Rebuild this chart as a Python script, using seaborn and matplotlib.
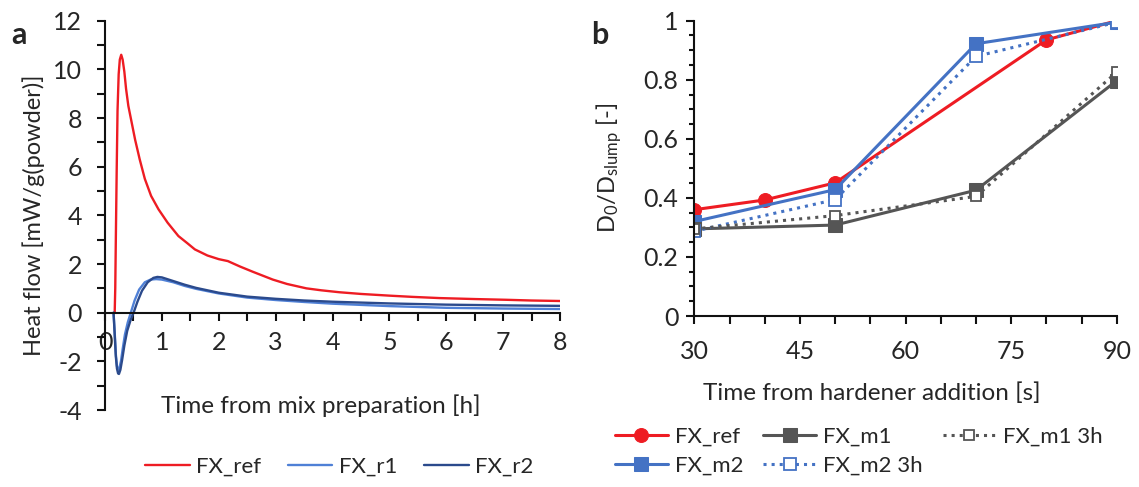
import numpy as np
import pandas as pd
import seaborn as sns
import matplotlib.pyplot as plt
from matplotlib.ticker import MultipleLocator

# Style first, then fonts (set_style resets font.family)
sns.set_style("ticks")
plt.rcParams['font.family'] = ['Lato', 'DejaVu Sans']
plt.rcParams['mathtext.fontset'] = 'custom'
plt.rcParams['mathtext.rm'] = 'Lato'
plt.rcParams['mathtext.it'] = 'Lato:italic'
plt.rcParams['axes.unicode_minus'] = False

# ---- panel a: heat flow curves ----
t_ref = [0.17, 0.18, 0.19, 0.205, 0.22, 0.24, 0.26, 0.285, 0.31, 0.34, 0.37, 0.41, 0.47,
         0.53, 0.61, 0.70, 0.81, 0.94, 1.1, 1.29, 1.45, 1.58, 1.8, 2.0, 2.16, 2.37, 2.6,
         2.95, 3.2, 3.54, 3.8, 4.12, 4.5, 5.0, 5.4, 5.88, 6.5, 7.05, 7.5, 8.0]
v_ref = [0.0, 1.0, 3.0, 5.8, 8.3, 9.8, 10.4, 10.6, 10.4, 9.9, 9.2, 8.5, 7.8,
         7.1, 6.3, 5.5, 4.8, 4.25, 3.7, 3.15, 2.85, 2.6, 2.35, 2.2, 2.12, 1.9, 1.68,
         1.36, 1.18, 1.0, 0.92, 0.84, 0.77, 0.7, 0.65, 0.6, 0.56, 0.53, 0.5, 0.48]

t_r1 = [0.15, 0.17, 0.19, 0.21, 0.23, 0.25, 0.28, 0.31, 0.35, 0.40, 0.46, 0.52, 0.6,
        0.7, 0.8, 0.9, 1.0, 1.2, 1.4, 1.6, 2.0, 2.5, 3.0, 3.5, 4.0, 5.0, 6.0, 7.0, 8.0]
v_r1 = [0.0, -0.8, -1.7, -2.2, -2.35, -2.3, -2.0, -1.5, -0.9, -0.4, 0.05, 0.5, 0.95,
        1.25, 1.36, 1.38, 1.36, 1.25, 1.1, 0.98, 0.79, 0.62, 0.52, 0.44, 0.37, 0.27,
        0.2, 0.17, 0.15]

t_r2 = [0.15, 0.17, 0.19, 0.21, 0.23, 0.245, 0.27, 0.30, 0.34, 0.39, 0.45, 0.51, 0.57,
        0.65, 0.75, 0.85, 0.92, 1.0, 1.2, 1.4, 1.6, 2.0, 2.5, 3.0, 3.5, 4.0, 5.0, 6.0,
        7.0, 8.0]
v_r2 = [0.0, -0.9, -1.8, -2.3, -2.5, -2.52, -2.35, -1.95, -1.35, -0.75, -0.3, 0.05, 0.45,
        0.9, 1.25, 1.43, 1.47, 1.45, 1.3, 1.15, 1.02, 0.82, 0.66, 0.57, 0.5, 0.45, 0.38,
        0.33, 0.3, 0.28]

# ---- panel b: D0/Dslump vs hardener time ----
x_ref = [30, 40, 50, 80, 90]
y_ref = [0.36, 0.393, 0.451, 0.935, 1.0]
x_m = [30, 50, 70, 90]
y_m1 = [0.295, 0.308, 0.426, 0.797]
y_m1_3h = [0.295, 0.340, 0.405, 0.826]
y_m2 = [0.320, 0.428, 0.922, 0.995]
y_m2_3h = [0.287, 0.394, 0.879, 0.995]

red = '#ee1c23'
blue = '#4472c4'
gray = '#555555'
light_blue = '#4f80d6'
dark_blue = '#2b4a8c'

fig = plt.figure(figsize=(11.39, 4.87), dpi=100)
ax_a = fig.add_axes([0.0922, 0.1581, 0.3995, 0.7994])
ax_b = fig.add_axes([0.6096, 0.3511, 0.3709, 0.6064])

heat = pd.concat([
    pd.DataFrame({'t': t_ref, 'q': v_ref, 'mix': 'FX_ref'}),
    pd.DataFrame({'t': t_r1, 'q': v_r1, 'mix': 'FX_r1'}),
    pd.DataFrame({'t': t_r2, 'q': v_r2, 'mix': 'FX_r2'}),
])
sns.lineplot(data=heat, x='t', y='q', hue='mix', estimator=None, sort=False,
             palette={'FX_ref': red, 'FX_r1': light_blue, 'FX_r2': dark_blue},
             linewidth=1.7, ax=ax_a, legend=True)

ax_a.set_xlim(0, 8)
ax_a.set_ylim(-4, 12)
ax_a.spines['top'].set_visible(False)
ax_a.spines['right'].set_visible(False)
ax_a.spines['bottom'].set_position(('data', 0))
for s in ax_a.spines.values():
    s.set_linewidth(1.5)
    s.set_color('#111111')
ax_a.xaxis.set_major_locator(MultipleLocator(1))
ax_a.xaxis.set_minor_locator(MultipleLocator(0.5))
ax_a.yaxis.set_major_locator(MultipleLocator(2))
ax_a.yaxis.set_minor_locator(MultipleLocator(1))
ax_a.tick_params(axis='both', which='both', direction='out', length=5.5, width=1.5,
                 color='#111111', labelsize=18)
ax_a.tick_params(axis='x', pad=8)
ax_a.tick_params(axis='y', pad=11)
ax_a.set_xlabel('Time from mix preparation [h]', fontsize=17.5)
ax_a.xaxis.set_label_coords(0.475, 0.04)
ax_a.set_ylabel('Heat flow [mW/g(powder)]', fontsize=17, labelpad=6)
ax_a.legend(loc='center', bbox_to_anchor=(0.298, 0.041), bbox_transform=fig.transFigure,
            ncol=3, frameon=False, fontsize=16, handlelength=2.0, columnspacing=1.2,
            handletextpad=0.3)
ax_a.text(-0.205, 1.0, 'a', transform=ax_a.transAxes, fontsize=22, fontweight='bold',
          va='top', ha='left')

# panel b series
sns.lineplot(x=x_ref, y=y_ref, ax=ax_b, color=red, linewidth=2.2, marker='o',
             markersize=10, markeredgecolor=red, label='FX_ref')
sns.lineplot(x=x_m, y=y_m2, ax=ax_b, color=blue, linewidth=2.2, marker='s',
             markersize=10, markeredgecolor=blue, label='FX_m2')
sns.lineplot(x=x_m, y=y_m1, ax=ax_b, color=gray, linewidth=2.2, marker='s',
             markersize=10, markeredgecolor=gray, label='FX_m1')
sns.lineplot(x=x_m, y=y_m2_3h, ax=ax_b, color=blue, linewidth=2.2, linestyle=':',
             marker='s', markersize=9, markerfacecolor='white', markeredgecolor=blue,
             markeredgewidth=1.3, label='FX_m2 3h')
sns.lineplot(x=x_m, y=y_m1_3h, ax=ax_b, color=gray, linewidth=2.2, linestyle=':',
             marker='s', markersize=7, markerfacecolor='white', markeredgecolor=gray,
             markeredgewidth=1.3, label='FX_m1 3h')

ax_b.set_xlim(30, 90)
ax_b.set_ylim(0, 1)
ax_b.spines['top'].set_visible(False)
ax_b.spines['right'].set_visible(False)
for s in ax_b.spines.values():
    s.set_linewidth(1.5)
    s.set_color('#111111')
ax_b.xaxis.set_major_locator(MultipleLocator(15))
ax_b.xaxis.set_minor_locator(MultipleLocator(5))
ax_b.yaxis.set_major_locator(MultipleLocator(0.2))
ax_b.yaxis.set_minor_locator(MultipleLocator(0.05))
ax_b.set_yticks([0, 0.2, 0.4, 0.6, 0.8, 1.0], ['0', '0.2', '0.4', '0.6', '0.8', '1'])
ax_b.tick_params(axis='both', which='both', direction='out', width=1.5,
                 color='#111111', labelsize=18)
ax_b.tick_params(axis='x', which='both', length=5.5, pad=12)
ax_b.tick_params(axis='y', which='major', length=5.5, pad=6)
ax_b.tick_params(axis='y', which='minor', length=3.5)
ax_b.set_xlabel('Time from hardener addition [s]', fontsize=17.5)
ax_b.xaxis.set_label_coords(0.42, -0.225)
ax_b.set_ylabel(r'D$_0$/D$_{\mathrm{slump}}$ [-]', fontsize=17, labelpad=14)
ax_b.legend(loc='center left', bbox_to_anchor=(0.522, 0.074), bbox_transform=fig.transFigure,
            ncol=3, frameon=False, fontsize=16, handlelength=2.4, columnspacing=0.9,
            handletextpad=0.3, labelspacing=0.4)
ax_b.text(-0.245, 1.0, 'b', transform=ax_b.transAxes, fontsize=22, fontweight='bold',
          va='top', ha='left')

fig.savefig('out.png', dpi=100)
